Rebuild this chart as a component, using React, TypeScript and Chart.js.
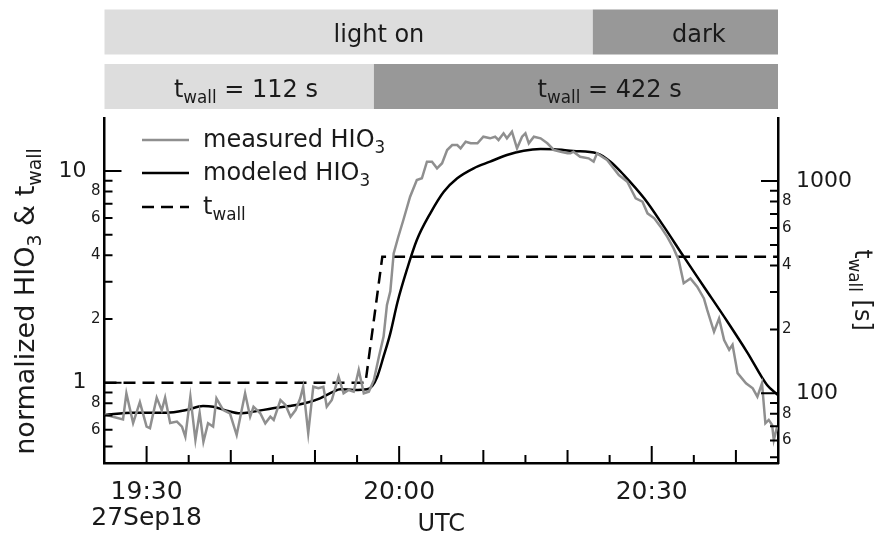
import React, { useEffect, useRef } from 'react';
import { Chart, registerables } from 'chart.js';

Chart.register(...registerables);

const FONT = '"DejaVu Sans", Verdana, sans-serif';
const TEXT = '#1a1a1a';

// time axis: minutes after 19:00 UTC, 27 Sep 2018
const xMin = 25;
const xMax = 105;
const xTickMinutes = [25, 30, 35, 40, 45, 50, 55, 60, 65, 70, 75, 80, 85, 90, 95, 100, 105];
const xLabelMinutes = [30, 60, 90];
const xLabelTexts = ['19:30', '20:00', '20:30'];
const dateLabel = '27Sep18';

// measured HIO3 (normalized)
const measuredTime = [
  25.0, 26.0, 27.2, 27.6, 28.4, 29.2, 30.0, 30.4, 31.2, 31.8, 32.2, 32.8, 33.6, 34.2, 34.6, 35.2,
  35.8, 36.3, 36.75, 37.3, 37.9, 38.3, 39.1, 39.9, 40.7, 41.7, 42.3, 42.7, 43.5, 44.1, 44.7, 45.1,
  45.9, 46.5, 47.1, 47.7, 48.25, 48.6, 49.2, 49.8, 50.4, 51.0, 51.4, 52.0, 52.8, 53.4, 54.0, 54.6,
  55.2, 55.8, 56.4, 57.0, 57.6, 58.15, 58.55, 58.95, 59.35, 59.9, 60.5, 61.3, 62.1, 62.7, 63.3,
  63.9, 64.5, 65.1, 65.7, 66.3, 66.9, 67.3, 67.9, 68.5, 69.3, 70.0, 70.8, 71.4, 71.8, 72.4, 72.8,
  73.4, 74.0, 74.6, 75.0, 75.4, 76.0, 76.8, 77.6, 78.4, 79.2, 80.0, 80.35, 80.7, 81.5, 82.5, 83.1,
  83.5, 84.7, 86.1, 87.1, 87.7, 88.1, 88.9, 89.5, 90.3, 91.05, 91.85, 92.6, 93.2, 93.8, 94.6, 95.4,
  96.2, 96.6, 97.4, 98.0, 98.6, 99.2, 99.6, 100.2, 101.2, 102.0, 102.55, 103.1, 103.5, 103.9,
  104.3, 104.5, 104.9,
];
const measuredHIO3 = [
  0.71, 0.69, 0.67, 0.89, 0.645, 0.81, 0.62, 0.61, 0.85, 0.74, 0.85, 0.645, 0.655, 0.62, 0.556, 0.86,
  0.536, 0.72, 0.526, 0.643, 0.62, 0.844, 0.743, 0.717, 0.566, 0.891, 0.691, 0.77, 0.717, 0.643, 0.691, 0.667,
  0.828, 0.785, 0.691, 0.743, 0.844, 0.957, 0.577, 0.957, 0.941, 0.957, 0.77, 0.828, 1.067, 0.891, 0.924, 0.907,
  1.148, 0.891, 0.907, 1.03, 1.33, 1.65, 2.33, 2.7, 4.08, 4.89, 5.87, 7.56, 9.07, 9.24, 11.07,
  11.07, 10.3, 10.88, 12.56, 13.27, 13.27, 12.8, 13.75, 13.52, 13.52, 14.52, 14.27, 14.52, 14.01, 15.07, 14.27,
  15.34, 12.8, 14.52, 15.07, 13.52, 14.52, 14.27, 13.52, 12.56, 12.33, 12.12, 12.12, 12.33, 11.68, 11.48, 11.07,
  12.12, 11.27, 9.57, 8.9, 7.98, 7.43, 7.16, 6.31, 5.98, 5.46, 4.89, 4.31, 3.8, 2.95, 3.11, 2.84,
  2.5, 2.2, 1.74, 2.01, 1.59, 1.43, 1.51, 1.11, 0.994, 0.941, 0.859, 0.994, 0.643, 0.667,
  0.631, 0.536, 0.62,
];

// modeled HIO3 (normalized)
const modeledTime = [
  25.0, 28.4, 32.35, 34.7, 36.7, 37.9, 39.5, 41.1, 42.7, 45.0, 47.0, 49.0, 50.6, 52.2, 53.0, 54.6,
  56.2, 56.8, 57.4, 58.15, 58.95, 59.8, 60.9, 62.1, 63.7, 65.3, 66.9, 68.85, 70.8, 72.8, 74.8,
  76.8, 78.4, 80.7, 83.5, 85.1, 86.7, 89.1, 91.45, 93.8, 96.2, 99.0, 101.4, 103.7, 105.0,
];
const modeledHIO3 = [
  0.703, 0.722, 0.722, 0.743, 0.776, 0.77, 0.738, 0.717, 0.73, 0.757, 0.776, 0.804, 0.844, 0.907, 0.931, 0.924,
  0.931, 0.965, 1.067, 1.33, 1.71, 2.4, 3.4, 4.72, 6.31, 7.98, 9.24, 10.3, 11.07, 11.9, 12.47,
  12.7, 12.66, 12.43, 12.12, 11.07, 9.57, 7.43, 5.46, 3.94, 2.84, 1.94, 1.38, 0.975, 0.875,
];

// wall loss time t_wall [s]
const twallTime = [25, 56, 58, 105];
const twallSeconds = [112, 112, 440, 440];

// left axis (normalized HIO3 & t_wall)
const leftMin = 0.4175;
const leftMax = 17.8;
const leftTicks = [0.5, 0.6, 0.7, 0.8, 0.9, 1, 2, 3, 4, 5, 6, 7, 8, 9, 10];
const leftLabelValues = [0.6, 0.8, 1, 2, 4, 6, 8, 10];
const leftLabelTexts = ['6', '8', '1', '2', '4', '6', '8', '10'];
const leftMajor = [1, 10];

// right axis (t_wall [s])
const rightMin = 46.95;
const rightMax = 1981;
const rightTicks = [50, 60, 70, 80, 90, 100, 200, 300, 400, 500, 600, 700, 800, 900, 1000];
const rightLabelValues = [60, 80, 100, 200, 400, 600, 800, 1000];
const rightLabelTexts = ['6', '8', '100', '2', '4', '6', '8', '1000'];
const rightMajor = [100, 1000];

// phases shown above the plot
const lightBounds = [25, 83, 105];
const lightNames = ['light on', 'dark'];
const twallBounds = [25, 57, 105];
const twallValues = ['112', '422'];

type Part = [string, boolean];

function near(a: number, b: number) {
  return Math.abs(a - b) < 1e-6 * Math.max(1, Math.abs(b));
}

function drawRich(ctx: CanvasRenderingContext2D, parts: Part[], x: number, y: number, size: number, align: 'left' | 'center' | 'right', color = TEXT) {
  const subSize = size * 0.7;
  const subShift = size * 0.27;
  const widths = parts.map(([t, sub]) => {
    ctx.font = `${sub ? subSize : size}px ${FONT}`;
    return ctx.measureText(t).width;
  });
  const total = widths.reduce((a, b) => a + b, 0);
  let cx = align === 'center' ? x - total / 2 : align === 'right' ? x - total : x;
  ctx.fillStyle = color;
  ctx.textAlign = 'left';
  ctx.textBaseline = 'alphabetic';
  parts.forEach(([t, sub], i) => {
    ctx.font = `${sub ? subSize : size}px ${FONT}`;
    ctx.fillText(t, cx, sub ? y + subShift : y);
    cx += widths[i];
  });
}

const decorPlugin = {
  id: 'decor',
  afterDraw(chart: any) {
    const ctx: CanvasRenderingContext2D = chart.ctx;
    const xs = chart.scales.x;
    const yl = chart.scales.y;
    const yr = chart.scales.y2;
    const { left, right, top, bottom } = chart.chartArea;
    ctx.save();

    // ---- inward tick marks
    ctx.strokeStyle = '#000';
    ctx.lineWidth = 2;
    ctx.beginPath();
    xTickMinutes.forEach((m) => {
      if (m <= xMin || m >= xMax) return;
      const px = xs.getPixelForValue(m);
      const len = m % 30 === 0 ? 17 : m % 10 === 0 ? 13 : 8;
      ctx.moveTo(px, bottom);
      ctx.lineTo(px, bottom - len);
    });
    leftTicks.forEach((v) => {
      const py = yl.getPixelForValue(v);
      const len = leftMajor.some((m) => near(m, v)) ? 17 : 8;
      ctx.moveTo(left, py);
      ctx.lineTo(left + len, py);
    });
    rightTicks.forEach((v) => {
      const py = yr.getPixelForValue(v);
      const len = rightMajor.some((m) => near(m, v)) ? 17 : 8;
      ctx.moveTo(right, py);
      ctx.lineTo(right - len, py);
    });
    ctx.stroke();

    // ---- phase bars
    const drawBand = (bounds: number[], y0: number, h: number, colors: string[]) => {
      for (let i = 0; i < bounds.length - 1; i++) {
        const a = xs.getPixelForValue(bounds[i]);
        const b = xs.getPixelForValue(bounds[i + 1]);
        ctx.fillStyle = colors[i];
        ctx.fillRect(a, y0, b - a, h);
      }
    };
    drawBand(lightBounds, 9.5, 45, ['#dddddd', '#989898']);
    drawBand(twallBounds, 64, 45, ['#dddddd', '#989898']);

    drawRich(ctx, [[lightNames[0], false]], xs.getPixelForValue(57.6), 42, 24, 'center');
    drawRich(ctx, [[lightNames[1], false]], xs.getPixelForValue(95.6), 42, 24, 'center');
    drawRich(ctx, [['t', false], ['wall', true], [` = ${twallValues[0]} s`, false]], xs.getPixelForValue(41.8), 97, 24, 'center');
    drawRich(ctx, [['t', false], ['wall', true], [` = ${twallValues[1]} s`, false]], xs.getPixelForValue(85.0), 97, 24, 'center');

    // ---- legend
    const lx0 = 142;
    const lx1 = 189;
    const rows: { y: number; color: string; dash: number[]; parts: Part[] }[] = [
      { y: 140, color: '#8f8f8f', dash: [], parts: [['measured HIO', false], ['3', true]] },
      { y: 173, color: '#000', dash: [], parts: [['modeled HIO', false], ['3', true]] },
      { y: 207, color: '#000', dash: [12, 7], parts: [['t', false], ['wall', true]] },
    ];
    rows.forEach((r) => {
      ctx.strokeStyle = r.color;
      ctx.lineWidth = 2.5;
      ctx.setLineDash(r.dash);
      ctx.beginPath();
      ctx.moveTo(lx0, r.y);
      ctx.lineTo(lx1, r.y);
      ctx.stroke();
      ctx.setLineDash([]);
      drawRich(ctx, r.parts, 203, r.y + 7, 24, 'left');
    });

    // ---- axis titles
    ctx.save();
    ctx.translate(34, (top + bottom) / 2 + 11);
    ctx.rotate(-Math.PI / 2);
    drawRich(ctx, [['normalized HIO', false], ['3', true], [' & t', false], ['wall', true]], 0, 0, 27, 'center');
    ctx.restore();

    ctx.save();
    ctx.translate(855, 290);
    ctx.rotate(Math.PI / 2);
    drawRich(ctx, [['t', false], ['wall', true], [' [s]', false]], 0, 0, 24, 'center');
    ctx.restore();

    ctx.restore();
  },
};

export default function App() {
  const canvasRef = useRef<HTMLCanvasElement | null>(null);

  useEffect(() => {
    const canvas = canvasRef.current;
    if (!canvas) return;

    const chart = new Chart(canvas, {
      type: 'line',
      data: {
        datasets: [
          {
            label: 'measured HIO3',
            data: measuredTime.map((t, i) => ({ x: t, y: measuredHIO3[i] })),
            borderColor: '#8f8f8f',
            borderWidth: 2.5,
            pointRadius: 0,
            tension: 0,
            yAxisID: 'y',
          },
          {
            label: 'modeled HIO3',
            data: modeledTime.map((t, i) => ({ x: t, y: modeledHIO3[i] })),
            borderColor: '#000000',
            borderWidth: 2.5,
            pointRadius: 0,
            cubicInterpolationMode: 'monotone',
            yAxisID: 'y',
          },
          {
            label: 't_wall',
            data: twallTime.map((t, i) => ({ x: t, y: twallSeconds[i] })),
            borderColor: '#000000',
            borderWidth: 2.5,
            borderDash: [12, 7],
            pointRadius: 0,
            tension: 0,
            yAxisID: 'y2',
          },
        ],
      },
      options: {
        animation: false,
        responsive: false,
        devicePixelRatio: 1,
        parsing: false as any,
        layout: { padding: { top: 118, left: 0, right: 0, bottom: 0 } },
        plugins: {
          legend: { display: false },
          tooltip: { enabled: false },
        },
        scales: {
          x: {
            type: 'linear',
            position: 'bottom',
            min: xMin,
            max: xMax,
            bounds: 'data',
            grid: { display: false, drawTicks: false },
            border: { display: true, color: '#000', width: 2.5 },
            afterBuildTicks: (s: any) => {
              s.ticks = xTickMinutes.map((v) => ({ value: v }));
            },
            afterFit: (s: any) => {
              s.height = 76;
            },
            ticks: {
              autoSkip: false,
              maxRotation: 0,
              minRotation: 0,
              padding: 16,
              color: TEXT,
              font: { family: FONT, size: 25, lineHeight: 1.05 },
              callback: (v: any) => {
                const i = xLabelMinutes.findIndex((m) => near(m, Number(v)));
                if (i < 0) return '';
                return i === 0 ? [xLabelTexts[i], dateLabel] : xLabelTexts[i];
              },
            },
            title: {
              display: true,
              text: 'UTC',
              color: TEXT,
              font: { family: FONT, size: 24 },
              padding: { top: 0, bottom: 0 },
            },
          },
          y: {
            type: 'logarithmic',
            position: 'left',
            min: leftMin,
            max: leftMax,
            bounds: 'data',
            grid: { display: false, drawTicks: false },
            border: { display: true, color: '#000', width: 2.5 },
            afterBuildTicks: (s: any) => {
              s.ticks = leftTicks.map((v) => ({ value: v }));
            },
            afterFit: (s: any) => {
              s.width = 104.5;
            },
            ticks: {
              autoSkip: false,
              padding: 4,
              color: TEXT,
              font: (c: any) => ({
                family: FONT,
                size: c.tick && leftMajor.some((m) => near(m, c.tick.value)) ? 22 : 15,
              }),
              callback: (v: any) => {
                const i = leftLabelValues.findIndex((m) => near(m, Number(v)));
                if (i < 0) return '';
                const major = leftMajor.some((m) => near(m, Number(v)));
                return major ? leftLabelTexts[i] + '  ' : leftLabelTexts[i];
              },
            },
          },
          y2: {
            type: 'logarithmic',
            position: 'right',
            min: rightMin,
            max: rightMax,
            bounds: 'data',
            grid: { display: false, drawTicks: false },
            border: { display: true, color: '#000', width: 2.5 },
            afterBuildTicks: (s: any) => {
              s.ticks = rightTicks.map((v) => ({ value: v }));
            },
            afterFit: (s: any) => {
              s.width = 96;
            },
            ticks: {
              autoSkip: false,
              padding: 4,
              color: TEXT,
              font: (c: any) => ({
                family: FONT,
                size: c.tick && rightMajor.some((m) => near(m, c.tick.value)) ? 22 : 15,
              }),
              callback: (v: any) => {
                const i = rightLabelValues.findIndex((m) => near(m, Number(v)));
                if (i < 0) return '';
                const major = rightMajor.some((m) => near(m, Number(v)));
                return major ? '  ' + rightLabelTexts[i] : rightLabelTexts[i];
              },
            },
          },
        },
      } as any,
      plugins: [decorPlugin],
    });

    return () => {
      chart.destroy();
    };
  }, []);

  return (
    <div style={{ position: 'fixed', left: 0, top: 0, width: 874, height: 539, background: '#fff' }}>
      <canvas ref={canvasRef} width={874} height={539} style={{ display: 'block', width: 874, height: 539 }} />
    </div>
  );
}
